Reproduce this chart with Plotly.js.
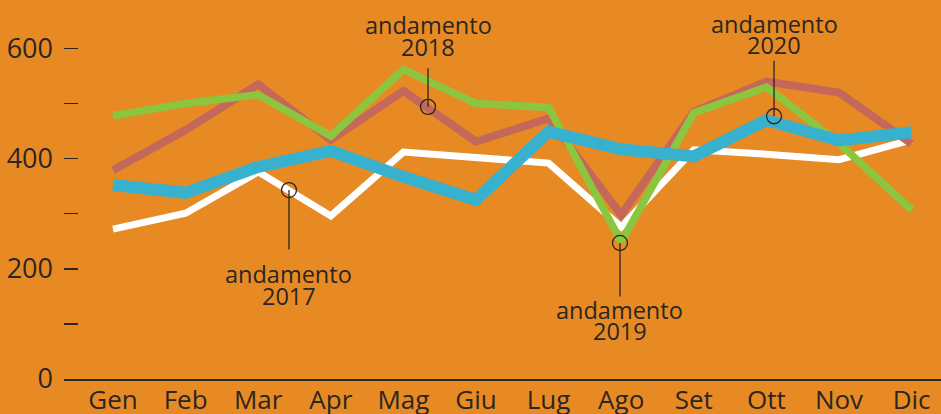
<!DOCTYPE html>
<html>
<head>
<meta charset="utf-8">
<script src="https://cdn.plot.ly/plotly-3.0.1.min.js"></script>
<style>html,body{margin:0;padding:0;background:#E88A24;}#chart{width:941px;height:414px;}</style>
</head>
<body>
<div id="chart"></div>
<script>
const months = ["Gen","Feb","Mar","Apr","Mag","Giu","Lug","Ago","Set","Ott","Nov","Dic"];
const andamento2017 = [272, 301, 376, 296, 412, 402, 392, 276, 416, 408, 398, 434];
const andamento2018 = [379, 452, 535, 434, 523, 431, 473, 298, 485, 540, 520, 427];
const andamento2019 = [478, 500, 516, 441, 562, 500, 493, 249, 483, 530, 428, 307];
const andamento2020 = [352, 338, 385, 414, 367, 325, 449, 417, 404, 470, 433, 448];

const yTickVals = [0, 100, 200, 300, 400, 500, 600];
const yTickText = ["0", "", "200", "", "400", "", "600"];

const labelWord = "andamento";
const labelYears = ["2017", "2018", "2019", "2020"];
const labelX = [2.424, 4.339, 6.983, 9.105];
const labelY = [343, 494, 247, 477];

const colors = {bg: "#E88A24", y2017: "#FFFFFF", y2018: "#C4685A", y2019: "#8CC63F", y2020: "#38B1CF", ink: "#2A2622"};

// pixel offsets of leader lines and text lines (positive = up)
const leaderLen = [61, -40, 55, -57];
const wordShift = [-84, 82, -67, 92];
const yearShift = [-106, 60, -88, 71];

const x = months.map((m, i) => i);

const traces = [
  {x: x, y: andamento2017, mode: "lines", line: {color: colors.y2017, width: 7}, hoverinfo: "skip"},
  {x: x, y: andamento2018, mode: "lines", line: {color: colors.y2018, width: 8}, hoverinfo: "skip"},
  {x: x, y: andamento2019, mode: "lines", line: {color: colors.y2019, width: 7.5}, hoverinfo: "skip"},
  {x: x, y: andamento2020, mode: "lines", line: {color: colors.y2020, width: 12}, hoverinfo: "skip"},
  {x: labelX, y: labelY, mode: "markers", marker: {symbol: "circle-open", size: 15, color: colors.ink, line: {width: 1.3, color: colors.ink}}, hoverinfo: "skip"}
];

const annotations = [];
const tfont = {family: "Open Sans", size: 23.5, color: colors.ink};
labelYears.forEach((yr, i) => {
  annotations.push({
    x: labelX[i], y: labelY[i], xref: "x", yref: "y", text: "",
    showarrow: true, arrowhead: 0, arrowwidth: 1.3, arrowcolor: colors.ink,
    ax: 0, ay: leaderLen[i], standoff: 0, startstandoff: 0
  });
  annotations.push({
    x: labelX[i], y: labelY[i], xref: "x", yref: "y", text: labelWord,
    showarrow: false, yshift: wordShift[i], xanchor: "center", yanchor: "middle", font: tfont, borderpad: 0
  });
  annotations.push({
    x: labelX[i], y: labelY[i], xref: "x", yref: "y", text: yr,
    showarrow: false, yshift: yearShift[i], xanchor: "center", yanchor: "middle", font: tfont, borderpad: 0
  });
});

const layout = {
  width: 941, height: 414,
  paper_bgcolor: colors.bg, plot_bgcolor: colors.bg,
  margin: {l: 64, r: 0, t: 0, b: 35},
  showlegend: false,
  font: {family: "Open Sans", color: colors.ink},
  xaxis: {
    range: [-0.675, 11.405], tickmode: "array", tickvals: x, ticktext: months,
    showgrid: false, zeroline: false, showline: true, linecolor: colors.ink, linewidth: 1.5,
    ticks: "", ticklabelstandoff: -3,
    tickfont: {family: "Open Sans", size: 26, color: colors.ink}, fixedrange: true
  },
  yaxis: {
    range: [0, 688], tickmode: "array", tickvals: yTickVals, ticktext: yTickText,
    showgrid: false, zeroline: false, showline: false,
    ticks: "inside", ticklen: 14, tickwidth: 1.5, tickcolor: colors.ink,
    ticklabelstandoff: 10,
    tickfont: {family: "Open Sans", size: 27, color: colors.ink}, fixedrange: true
  },
  annotations: annotations
};

Plotly.newPlot("chart", traces, layout, {displayModeBar: false, staticPlot: true});
</script>
</body>
</html>
